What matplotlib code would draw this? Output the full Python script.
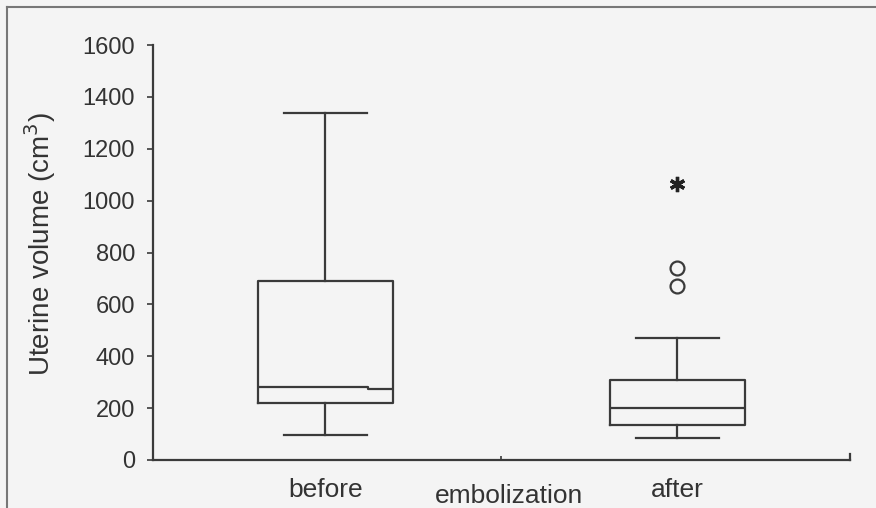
import matplotlib.pyplot as plt
from matplotlib.lines import Line2D

# box statistics (cm3)
groups = ['before', 'after']
q1 = [220, 135]
median = [281, 200]
median_right = [274, 200]
q3 = [690, 308]
whislo = [96, 85]
whishi = [1338, 470]
outliers_circle = [[], [670, 740]]
outliers_star = [[], [1064]]

yticks = [0, 200, 400, 600, 800, 1000, 1200, 1400, 1600]

plt.rcParams['font.family'] = ['Liberation Sans', 'DejaVu Sans']
ink = '#3a3a3a'
txt = '#333333'
bg = '#f4f4f4'

fig = plt.figure(figsize=(8.76, 5.08), dpi=100, facecolor=bg)
ax = fig.add_axes([0.1747, 0.0945, 0.7956, 0.8169])
ax.set_facecolor(bg)

stats = []
for i, g in enumerate(groups):
    stats.append(dict(label=g, q1=q1[i], med=median[i], q3=q3[i],
                      whislo=whislo[i], whishi=whishi[i], fliers=[]))

lw = 1.6
ax.bxp(stats, positions=[1, 2], widths=0.384, showfliers=False,
       boxprops=dict(color=ink, lw=lw),
       whiskerprops=dict(color=ink, lw=lw),
       capprops=dict(color=ink, lw=lw),
       medianprops=dict(color='none'),
       capwidths=0.236, manage_ticks=False)

# median lines (the "before" one has a small step)
for i, pos in enumerate([1, 2]):
    left, right = pos - 0.192, pos + 0.192
    mid = pos + 0.12
    ax.plot([left, mid, mid, right],
            [median[i], median[i], median_right[i], median_right[i]],
            color=ink, lw=lw, solid_capstyle='butt')

for i, pos in enumerate([1, 2]):
    if outliers_circle[i]:
        ax.plot([pos] * len(outliers_circle[i]), outliers_circle[i], 'o',
                mfc='none', mec=ink, ms=10, mew=1.6)
    if outliers_star[i]:
        ax.plot([pos] * len(outliers_star[i]), outliers_star[i],
                marker=(6, 2, 0), ls='none', mec='#222222', ms=11, mew=2.4)

ax.set_xlim(0.511, 2.49)
ax.set_ylim(0, 1600)
ax.set_yticks(yticks)
ax.tick_params(axis='y', direction='out', length=4, width=1.2, color=ink,
               labelsize=17, labelcolor=txt, pad=9)
ax.set_xticks([1, 2])
ax.set_xticklabels(groups)
ax.tick_params(axis='x', length=0, labelsize=19, labelcolor=txt, pad=13)
ax.set_xticks([1.5], minor=True)
ax.tick_params(axis='x', which='minor', direction='in', length=3, width=1.2, color=ink)
fig.text(509 / 876, 12 / 508, 'embolization', ha='center', va='center',
         fontsize=19, color=txt)

for s in ['top', 'right']:
    ax.spines[s].set_visible(False)
for s in ['left', 'bottom']:
    ax.spines[s].set_color(ink)
    ax.spines[s].set_linewidth(1.6)
# small end tick at the right of the x axis
ax.plot([2.49, 2.49], [0, 22], color=ink, lw=1.6, clip_on=False)

ax.set_ylabel('Uterine volume (cm$^3$)', fontsize=20, color=txt)
ax.yaxis.set_label_coords(-0.136, 0.52)

# figure frame (top and left edges)
fig.add_artist(Line2D([7 / 876, 7 / 876], [0, 1 - 7 / 508], color='#777777', lw=1.5))
fig.add_artist(Line2D([7 / 876, 1], [1 - 7 / 508, 1 - 7 / 508], color='#777777', lw=1.5))

fig.savefig('out.png', dpi=100, facecolor=bg)
